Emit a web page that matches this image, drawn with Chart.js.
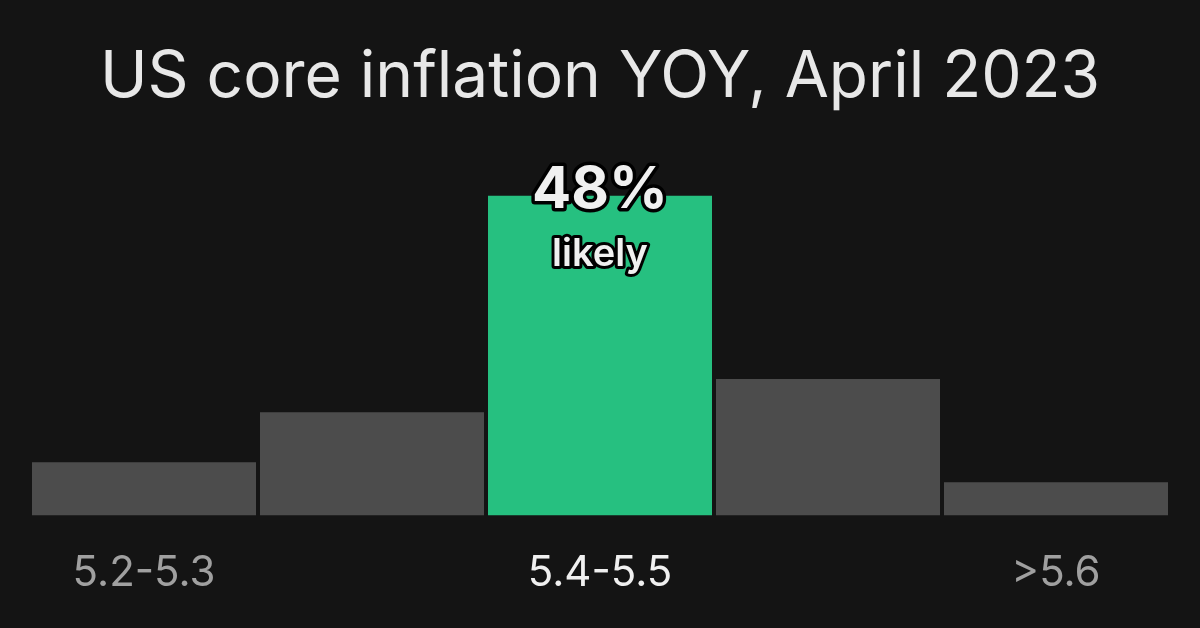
<!DOCTYPE html>
<html>
<head>
<meta charset="utf-8">
<script src="https://cdn.jsdelivr.net/npm/chart.js@4"></script>
<style>
    html, body { margin: 0; padding: 0; background: #141414; }
    #wrap { width: 1200px; height: 628px; }
</style>
</head>
<body>
<div id="wrap"><canvas id="chart"></canvas></div>
<script>
// Data
const categories = ["5.2-5.3", "5.3-5.4", "5.4-5.5", "5.5-5.6", ">5.6"];
const probabilities = [8, 15.5, 48, 20.5, 5];
const shownLabels = ["5.2-5.3", "", "5.4-5.5", "", ">5.6"];
const likelyIndex = 2;

// Colors
const greenColor = "#26c080";
const greyColor = "#4c4c4c";

// Plugin: big label over the likely bar
const likelyLabel = {
    id: "likelyLabel",
    afterDatasetsDraw(chart) {
        const bar = chart.getDatasetMeta(0).data[likelyIndex];
        const ctx = chart.ctx;
        ctx.save();
        ctx.textAlign = "center";
        ctx.textBaseline = "alphabetic";
        ctx.lineJoin = "round";
        ctx.strokeStyle = "#000";
        ctx.fillStyle = "#f0f0f0";

        ctx.font = "700 58px Inter";
        ctx.lineWidth = 7;
        ctx.strokeText(probabilities[likelyIndex] + "%", bar.x, bar.y + 12);
        ctx.fillText(probabilities[likelyIndex] + "%", bar.x, bar.y + 12);

        ctx.font = "600 38px Inter";
        ctx.lineWidth = 6;
        ctx.strokeText("likely", bar.x, bar.y + 70);
        ctx.fillText("likely", bar.x, bar.y + 70);
        ctx.restore();
    }
};

new Chart(document.getElementById("chart"), {
    type: "bar",
    data: {
        labels: categories,
        datasets: [{
            data: probabilities,
            backgroundColor: categories.map((c, i) => i === likelyIndex ? greenColor : greyColor),
            borderWidth: 0,
            barPercentage: 224 / 228,
            categoryPercentage: 1
        }]
    },
    options: {
        responsive: true,
        maintainAspectRatio: false,
        animation: false,
        layout: {
            padding: {left: 30, right: 30, top: 10, bottom: -4}
        },
        plugins: {
            legend: {display: false},
            tooltip: {enabled: false},
            title: {
                display: true,
                text: "US core inflation YOY, April 2023",
                color: "#e8e8e8",
                font: {family: "Inter", size: 64, weight: "400"},
                padding: {top: 29, bottom: 0}
            }
        },
        scales: {
            x: {
                grid: {display: false, drawTicks: false},
                border: {display: false},
                ticks: {
                    padding: 33,
                    autoSkip: false,
                    maxRotation: 0,
                    font: {family: "Inter", size: 42},
                    color: (c) => c.index === likelyIndex ? "#f0f0f0" : "#a0a0a0",
                    callback: (v, i) => shownLabels[i]
                }
            },
            y: {
                display: false,
                min: 0,
                max: 60
            }
        }
    },
    plugins: [likelyLabel]
});
</script>
</body>
</html>
